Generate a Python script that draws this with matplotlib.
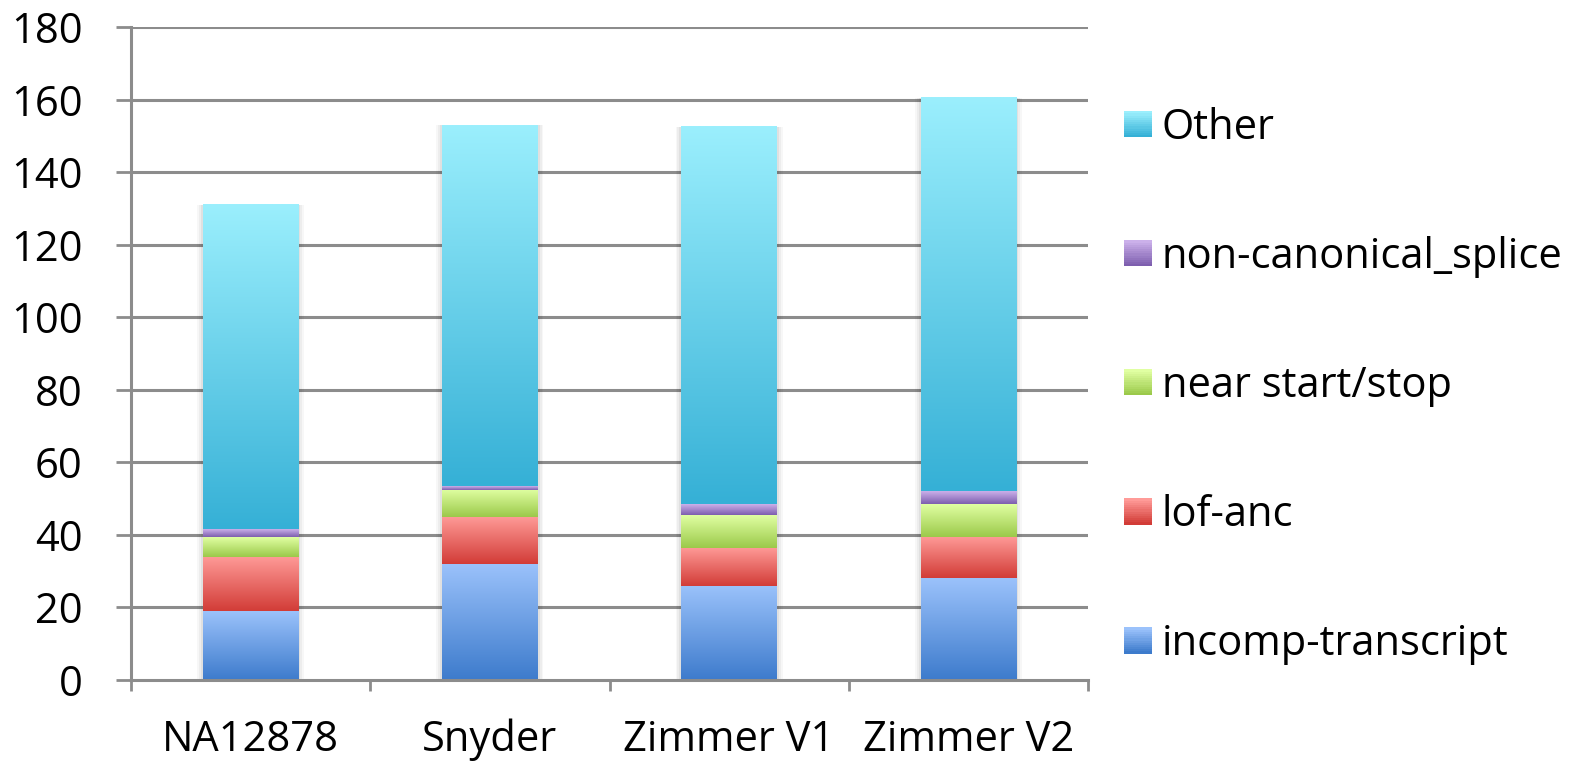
import numpy as np
import matplotlib
matplotlib.use("Agg")
import matplotlib.pyplot as plt
from matplotlib.colors import LinearSegmentedColormap
from matplotlib.patches import Rectangle
from matplotlib.legend_handler import HandlerBase

plt.rcParams['font.family'] = ['Open Sans', 'DejaVu Sans']

samples = ["NA12878", "Snyder", "Zimmer V1", "Zimmer V2"]
series_names = ["incomp-transcript", "lof-anc", "near start/stop",
                "non-canonical_splice", "Other"]
incomp_transcript = [19, 32, 26, 28]
lof_anc = [15, 13, 10.5, 11.5]
near_start_stop = [5.5, 7.5, 9, 9]
non_canonical_splice = [2, 1, 3, 3.5]
other = [89.5, 99.5, 104, 108.5]
y_ticks = [0, 20, 40, 60, 80, 100, 120, 140, 160, 180]

series_values = [incomp_transcript, lof_anc, near_start_stop,
                 non_canonical_splice, other]
# (bottom colour, top colour) for each segment's vertical gradient
gradients = [("#3d7bcc", "#9bc2fb"),
             ("#d23c37", "#ff9b98"),
             ("#9bc94a", "#e0ffa2"),
             ("#7d5eae", "#cbb0ea"),
             ("#35b0d6", "#9beffd")]

W, H = 1573, 764
FS = 30
fig = plt.figure(figsize=(W / 100, H / 100), dpi=100)
left, right, top, bottom = 131, 1088, 27, 680
ax = fig.add_axes([left / W, (H - bottom) / H, (right - left) / W, (bottom - top) / H])

grid_col = "#8c8c8c"
ax.set_ylim(0, 180)
ax.set_xlim(-0.5, len(samples) - 0.5)
for v in y_ticks[1:]:
    ax.axhline(v, color=grid_col, lw=2.2, zorder=1)

x = np.arange(len(samples))
bar_w = 0.4
base = np.zeros(len(samples))
grad = np.linspace(0, 1, 256).reshape(-1, 1)
for vals, (c0, c1), name in zip(series_values, gradients, series_names):
    vals = np.asarray(vals, dtype=float)
    bars = ax.bar(x, vals, bar_w, bottom=base, color="none", edgecolor="none",
                  label=name, zorder=3)
    cmap = LinearSegmentedColormap.from_list(name, [c0, c1])
    for b in bars:
        x0, y0 = b.get_x(), b.get_y()
        w, h = b.get_width(), b.get_height()
        # soft shadow around each segment
        for k, a in enumerate([0.05, 0.04, 0.03]):
            pad = 0.008 * (k + 1)
            ax.add_patch(Rectangle((x0 - pad, y0), w + 2 * pad, h,
                                   facecolor="black", alpha=a, lw=0, zorder=2))
        ax.imshow(grad, extent=(x0, x0 + w, y0, y0 + h), origin="lower",
                  cmap=cmap, aspect="auto", zorder=4, interpolation="bilinear")
    base += vals

ax.set_ylim(0, 180)
ax.set_xlim(-0.5, len(samples) - 0.5)

for s in ["top", "right"]:
    ax.spines[s].set_visible(False)
for s in ["left", "bottom"]:
    ax.spines[s].set_color(grid_col)
    ax.spines[s].set_linewidth(2.2)
    ax.spines[s].set_zorder(5)

ax.set_yticks(y_ticks)
ax.set_yticklabels([str(t) for t in y_ticks])
ax.tick_params(axis="y", direction="out", length=11, width=2, color=grid_col,
               labelsize=FS, pad=24)
ax.set_xticks(x)
ax.set_xticklabels(samples)
ax.tick_params(axis="x", which="major", length=0, labelsize=FS, pad=28)
ax.set_xticks(np.arange(-0.5, len(samples)), minor=True)
ax.tick_params(axis="x", which="minor", direction="out", length=8, width=2,
               color=grid_col)


class GradientHandler(HandlerBase):
    def __init__(self, c0, c1):
        super().__init__()
        self.cmap = LinearSegmentedColormap.from_list("h", [c0, c1])

    def create_artists(self, legend, orig_handle, xdescent, ydescent, width,
                       height, fontsize, trans):
        n = 12
        arts = []
        for i in range(n):
            r = Rectangle((-xdescent, -ydescent + height * i / n), width,
                          height / n + 0.2,
                          facecolor=self.cmap(i / (n - 1)), lw=0, transform=trans)
            arts.append(r)
        return arts


handles, labels = ax.get_legend_handles_labels()
handler_map = {h: GradientHandler(*g) for h, g in zip(handles, gradients)}
leg = fig.legend(handles[::-1], labels[::-1], handler_map=handler_map,
                 loc="upper left", bbox_to_anchor=(1124 / W, 1 - 107 / H),
                 frameon=False, fontsize=FS, labelspacing=2.09,
                 borderpad=0, borderaxespad=0,
                 handlelength=0.67, handleheight=0.58, handletextpad=0.24)

fig.savefig("out.png", dpi=100)
